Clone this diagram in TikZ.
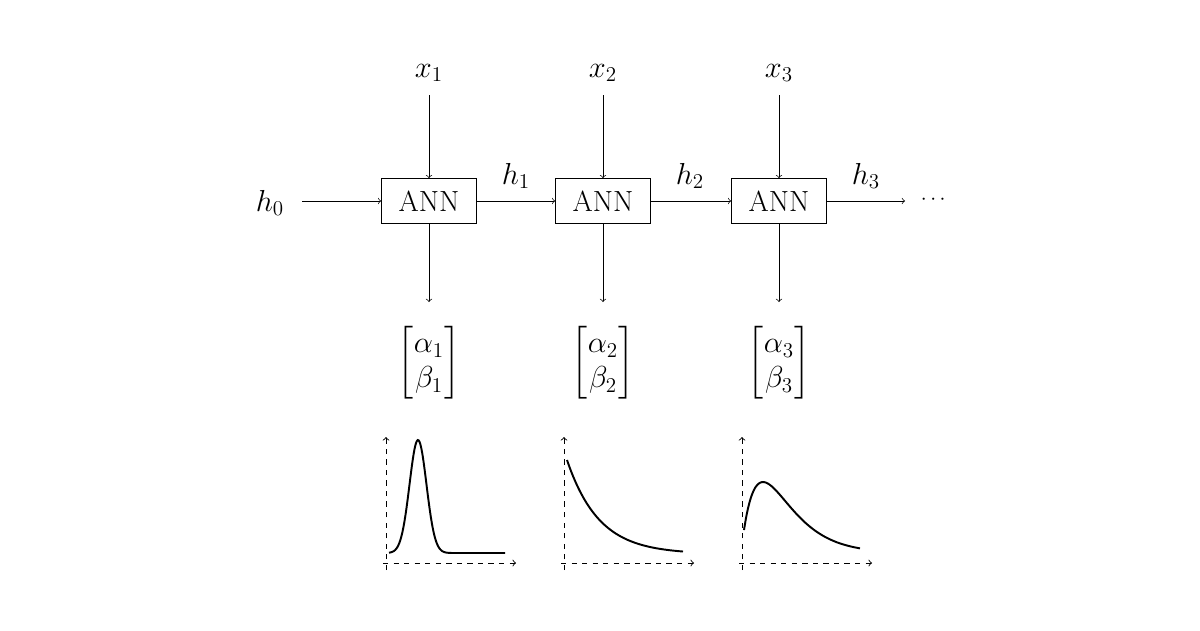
\documentclass[tikz,border=0pt]{standalone}
\usepackage{amsmath}
\begin{document}
\begin{tikzpicture}[x=0.02cm,y=-0.02cm,
  lbl/.style={font=\fontsize{16.6}{20}\selectfont, inner sep=0pt},
  ann/.style={draw, font=\fontsize{16.6}{20}\selectfont, minimum width=1.9cm, minimum height=0.9cm, inner sep=0pt},
  axis/.style={dashed, ->, line width=0.5pt},
  curve/.style={line width=1.1pt}]
\useasboundingbox (0,0) rectangle (1200,630);
\fill[white] (0,0) rectangle (1200,630);
\node[lbl] (h0) at (270,203) {$h_0$};
\coordinate (h0e) at (302,201);
\foreach \i/\x in {1/429,2/603,3/779}{
  \node[lbl] (x\i) at (\x,73) {$x_\i$};
  \node[ann] (a\i) at (\x,201) {ANN};
  \node[lbl] (v\i) at (\x,363) {$\begin{bmatrix}\alpha_\i\\ \beta_\i\end{bmatrix}$};
  \coordinate (xs\i) at (\x,95);
  \coordinate (ve\i) at (\x,302);
  \draw[->] (xs\i) -- (a\i.north);
  \draw[->] (a\i.south) -- (ve\i);
}
\node[lbl] (l1) at (516,176) {$h_1$};
\node[lbl] (l2) at (690,176) {$h_2$};
\node[lbl] (l3) at (866,176) {$h_3$};
\node[font=\fontsize{12}{14}\selectfont, inner sep=0pt] (dots) at (935,200) {$\cdots$};
\coordinate (he) at (905,201);
\draw[->] (h0e) -- (a1.west);
\draw[->] (a1.east) -- (a2.west);
\draw[->] (a2.east) -- (a3.west);
\draw[->] (a3.east) -- (he);
% plots
\foreach \ox in {386,564,742}{
  \draw[axis] (\ox,570) -- (\ox,437);
  \draw[axis] (\ox-3,563) -- (\ox+130,563);
}
\draw[curve] plot[domain=389:470,samples=80,smooth] (\x,{553-113*exp(-((\x-418)/12)^2)}) -- (505,553);
\draw[curve] plot[domain=567:683,samples=60,smooth] (\x,{554-94*exp(-(\x-567)/32)});
\draw[curve] plot[domain=744:860,samples=60,smooth] (\x,{553-8.77*(\x-741)*exp(-(\x-741)/22)});
\end{tikzpicture}
\end{document}
